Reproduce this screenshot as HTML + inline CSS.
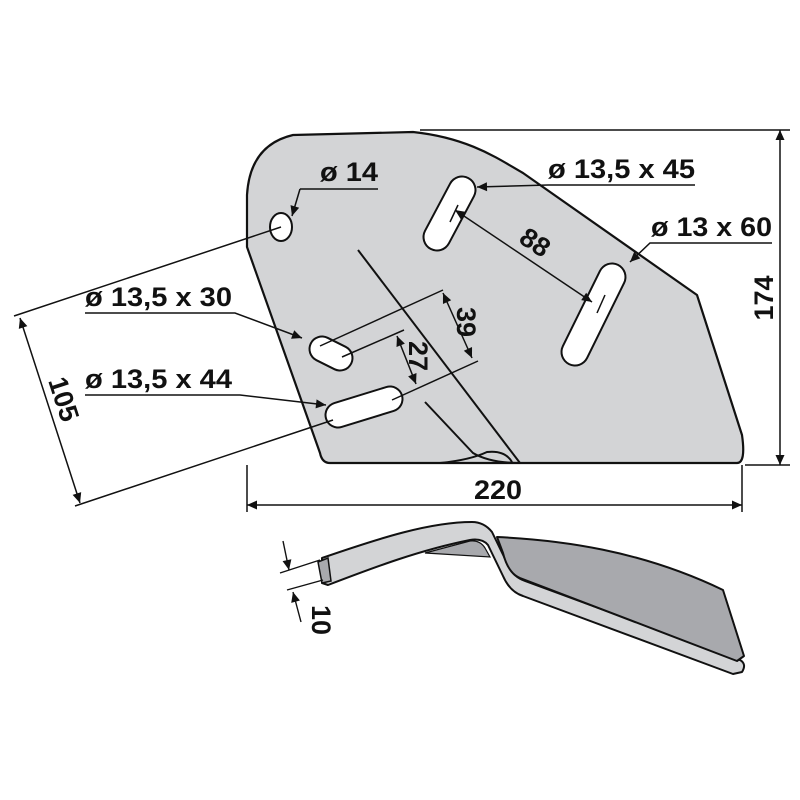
<!DOCTYPE html>
<html><head><meta charset="utf-8"><style>
html,body{margin:0;padding:0;background:#fff;}
svg{display:block;}
text{font-family:"Liberation Sans",sans-serif;font-weight:bold;font-size:27px;fill:#111;}
</style></head><body>
<svg width="800" height="800" viewBox="0 0 800 800" xmlns="http://www.w3.org/2000/svg">
<defs>
<marker id="a" viewBox="0 0 10 10" refX="10" refY="5" markerWidth="18" markerHeight="10" markerUnits="userSpaceOnUse" orient="auto-start-reverse">
<path d="M0,0.5 L10,5 L0,9.5 Z" fill="#111"/></marker>
</defs>
<!-- plate -->
<path d="M293,135 L413,132 C470,138 500,160 523,173 L697,295 L742,435 Q746,463 737,463 L330,463 Q322,463 320,453 L247,247 L247,195 Q250,145 293,135 Z" fill="#d3d4d6" stroke="#111" stroke-width="2.2" stroke-linejoin="round"/>
<path d="M358,250 L520,463" fill="none" stroke="#111" stroke-width="2"/>
<path d="M425,402 L473,453 Q490,463 520,463" fill="none" stroke="#111" stroke-width="2"/>
<path d="M440,463 Q470,460 487,452 Q505,450 512,462" fill="none" stroke="#111" stroke-width="2"/>
<ellipse cx="281" cy="227" rx="11" ry="14" fill="#fff" stroke="#111" stroke-width="2"/>
<g stroke-linecap="round" fill="none">
<line x1="462" y1="190" x2="437" y2="237" stroke="#111" stroke-width="29"/>
<line x1="462" y1="190" x2="437" y2="237" stroke="#fff" stroke-width="25"/>
<line x1="612" y1="277" x2="575" y2="352" stroke="#111" stroke-width="29"/>
<line x1="612" y1="277" x2="575" y2="352" stroke="#fff" stroke-width="25"/>
<line x1="322" y1="349" x2="340" y2="358" stroke="#111" stroke-width="27"/>
<line x1="322" y1="349" x2="340" y2="358" stroke="#fff" stroke-width="23"/>
<line x1="338" y1="415" x2="390" y2="399" stroke="#111" stroke-width="27"/>
<line x1="338" y1="415" x2="390" y2="399" stroke="#fff" stroke-width="23"/>
</g>
<g stroke="#111" stroke-width="1.5" fill="none">
<line x1="420" y1="130" x2="790" y2="130"/>
<line x1="745" y1="465" x2="790" y2="465"/>
<line x1="780" y1="130" x2="780" y2="465" marker-start="url(#a)" marker-end="url(#a)"/>
<line x1="247" y1="465" x2="247" y2="512"/>
<line x1="742" y1="465" x2="742" y2="512"/>
<line x1="247" y1="505" x2="742" y2="505" marker-start="url(#a)" marker-end="url(#a)"/>
<line x1="281" y1="227" x2="14" y2="316"/>
<line x1="333" y1="420" x2="75" y2="506"/>
<line x1="20" y1="318" x2="80" y2="503" marker-start="url(#a)" marker-end="url(#a)"/>
<polyline points="300,189 378,189"/>
<line x1="300" y1="189" x2="292" y2="216" marker-end="url(#a)"/>
<polyline points="695,185 548,185 477,187" marker-end="url(#a)"/>
<polyline points="772,243 650,243 630,262" marker-end="url(#a)"/>
<line x1="455" y1="210" x2="592" y2="302" marker-start="url(#a)" marker-end="url(#a)"/>
<line x1="458" y1="205" x2="450" y2="222"/>
<line x1="605" y1="295" x2="597" y2="313"/>
<polyline points="85,313 235,313 302,338" marker-end="url(#a)"/>
<polyline points="85,395 240,395 326,405" marker-end="url(#a)"/>
<line x1="320" y1="346" x2="443" y2="290"/>
<line x1="342" y1="357" x2="404" y2="330"/>
<line x1="392" y1="400" x2="478" y2="361"/>
<line x1="443" y1="293" x2="472" y2="358" marker-start="url(#a)" marker-end="url(#a)"/>
<line x1="397" y1="336" x2="416" y2="384" marker-start="url(#a)" marker-end="url(#a)"/>
</g>
<text x="320" y="181" textLength="58" lengthAdjust="spacingAndGlyphs">ø 14</text>
<text x="548" y="178" textLength="147" lengthAdjust="spacingAndGlyphs">ø 13,5 x 45</text>
<text x="651" y="236" textLength="121" lengthAdjust="spacingAndGlyphs">ø 13 x 60</text>
<text x="85" y="306" textLength="147" lengthAdjust="spacingAndGlyphs">ø 13,5 x 30</text>
<text x="85" y="388" textLength="147" lengthAdjust="spacingAndGlyphs">ø 13,5 x 44</text>
<text x="474" y="499" textLength="48" lengthAdjust="spacingAndGlyphs">220</text>
<text transform="translate(773,298) rotate(-90)" text-anchor="middle">174</text>
<text transform="translate(55,402) rotate(72)" text-anchor="middle">105</text>
<text transform="translate(530,250) rotate(34)" text-anchor="middle">88</text>
<text transform="translate(457,322) rotate(90)" text-anchor="middle">39</text>
<text transform="translate(409,356) rotate(90)" text-anchor="middle">27</text>
<text transform="translate(312,620) rotate(90)" text-anchor="middle">10</text>
<!-- side view -->
<path d="M322,558 C380,538 430,522 472,522 Q484,522 492,532 L508,565 Q512,576 525,581 L740,660 Q747,664 742,672 L733,674 L523,596 Q510,592 503,576 L488,545 Q482,538 470,540 C420,550 375,567 328,585 L322,583 Z" fill="#d3d4d6" stroke="#111" stroke-width="2" stroke-linejoin="round"/>
<path d="M497,537 C560,540 640,550 723,590 L744,656 L737,661 L520,578 Q508,573 503,553 Z" fill="#a8a9ad" stroke="#111" stroke-width="2" stroke-linejoin="round"/>
<path d="M425,553 L470,541 Q480,540 485,548 L490,557 Z" fill="#a8a9ad" stroke="#111" stroke-width="1.2"/>
<path d="M318,562 L328,558 L331,581 L322,583 Z" fill="#a8a9ad" stroke="#111" stroke-width="1.5"/>
<g stroke="#111" stroke-width="1.4" fill="none">
<line x1="280" y1="573" x2="320" y2="560"/>
<line x1="287" y1="590" x2="323" y2="580"/>
<line x1="283" y1="541" x2="289" y2="570" marker-end="url(#a)"/>
<line x1="301" y1="622" x2="293" y2="592" marker-end="url(#a)"/>
</g>
</svg>
</body></html>
